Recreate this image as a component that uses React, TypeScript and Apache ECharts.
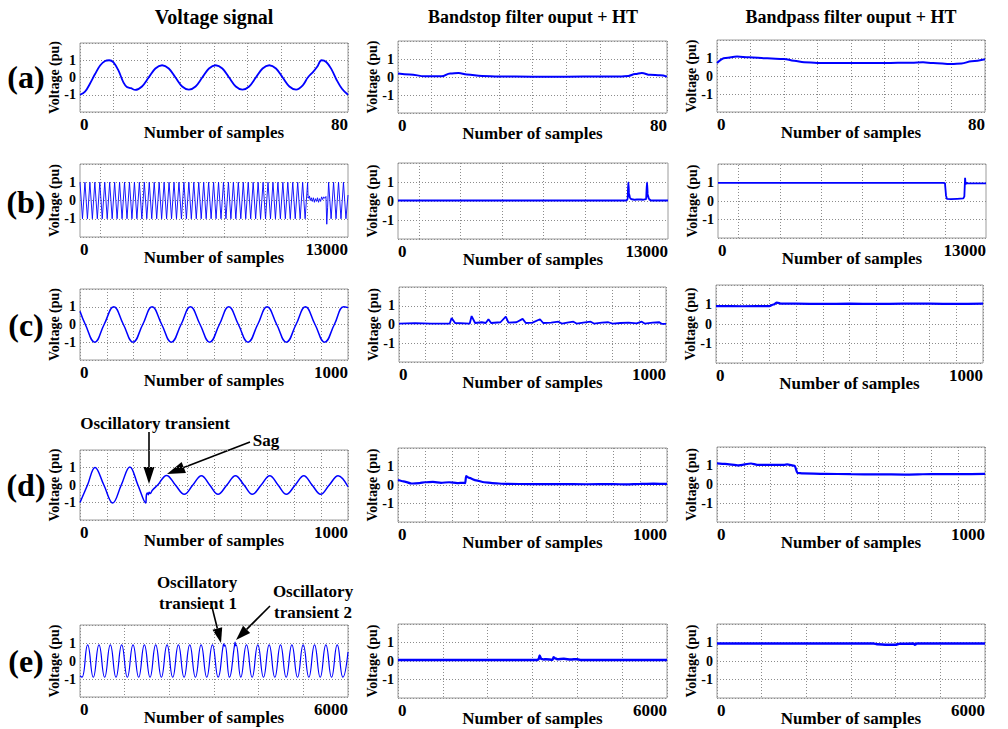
import React, { useEffect, useRef } from "react";
import * as echarts from "echarts";

const FONT = '"Liberation Serif", "Times New Roman", Times, serif';
const LINE_BLUE = "#0000ff";

const columnTitles = ["Voltage signal", "Bandstop filter ouput + HT", "Bandpass filter ouput + HT"];
const rowLabels = ["(a)", "(b)", "(c)", "(d)", "(e)"];
const xMaxByRow = [80, 13000, 1000, 1000, 6000];
const xGridStepByRow = [10, 0, 100, 100, 1000];
const bGridLines = [1000, 3000, 5000, 7000, 9000, 11000];
const yTickValues = [-1, 0, 1];
const yName = "Voltage (pu)";
const xName = "Number of samples";

// ---------- row (a) : 80 samples ----------
const a1Voltage = [[0,-1.0],[1.5,-0.82],[3,-0.35],[4.5,0.2],[6,0.7],[7.5,0.96],[8.7,1.0],[10,0.88],[11.5,0.4],[13,-0.3],[14,-0.55],[15.2,-0.62],[16.5,-0.72],[18.5,-0.52],[20.5,0.0],[22.5,0.52],[24.5,0.71],[26.5,0.52],[28.5,0.0],[30.5,-0.52],[32.5,-0.7],[34.5,-0.52],[36.5,0.0],[38.5,0.52],[40.5,0.71],[42.5,0.52],[44.5,0.0],[46.5,-0.52],[48.5,-0.7],[50.5,-0.52],[52.5,0.0],[54.5,0.52],[56.5,0.71],[58.5,0.52],[60.5,0.0],[62.5,-0.52],[64.5,-0.7],[66.5,-0.45],[68,0.0],[69.6,0.33],[70.8,0.62],[72.1,1.0],[73.5,0.9],[75,0.5],[76.5,-0.1],[78.2,-0.65],[80,-1.0]];
const a2Bandstop = [[0,0.19],[3.5,0.14],[8,0.04],[13,0.04],[15.5,0.2],[18,0.22],[20.5,0.14],[25,0.05],[30,0.03],[40,0.02],[50,0.02],[60,0.03],[66,0.03],[68.5,0.06],[70.5,0.16],[72.5,0.22],[75,0.12],[78,0.1],[80,0.02]];
const a3Bandpass = [[0,0.72],[2.5,1.0],[6,1.08],[9.5,1.04],[15,0.98],[20,0.95],[23,0.85],[26,0.77],[30,0.72],[40,0.72],[50,0.72],[58,0.74],[61.5,0.76],[64.5,0.72],[70,0.66],[73,0.7],[76,0.82],[80,0.93]];

// ---------- row (b) : 13000 samples ----------
// extrema every 120 samples, 0 .. 10920
const b1Regular = [
  1,-1,1,-1,1,-1,1,-1,1,-1,
  1,-1,1,-1,1,-1,1,-1,1,-1,
  1,-1,1,-1,1,-1,1,-1,1,-1,
  1,-1,1,-1,1,-1,1,-1,1,-1,
  1,-1,1,-1,1,-1,1,-1,1,-1,
  1,-1,1,-1,1,-1,1,-1,1,-1,
  1,-1,1,-1,1,-1,1,-1,1,-1,
  1,-1,1,-1,1,-1,1,-1,1,-1,
  1,-1,1,-1,1,-1,1,-1,1,-1,
  1,-1,
];
const b1Disturbance = [[11040,0.98],[11065,0.2],[11100,0.12],[11130,0.25],[11170,0.0],[11220,0.15],[11270,-0.05],[11320,0.15],[11370,-0.1],[11420,0.1],[11470,-0.05],[11520,0.15],[11570,-0.1],[11620,0.1],[11670,-0.05],[11720,0.2],[11770,0.05],[11820,0.2],[11870,0.12],[11930,0.22],[11970,-1.3],[12010,-0.4]];
const b1After = [[12060,1],[12180,-1],[12300,1],[12420,-1],[12540,1],[12660,-1],[12780,1],[12900,-1],[13000,0.3]];
const b2Bandstop = [[0,0.02],[10950,0.02],[11060,0.08],[11090,0.98],[11120,0.4],[11170,0.15],[11250,0.09],[11400,0.07],[11600,0.08],[11800,0.07],[11950,0.1],[11990,0.97],[12020,0.35],[12080,0.1],[12180,0.03],[13000,0.02]];
const b3Bandpass = [[0,0.98],[10950,0.98],[11010,0.95],[11060,0.3],[11100,0.12],[11300,0.1],[11600,0.12],[11900,0.14],[11950,0.25],[11985,1.25],[12010,0.9],[12060,1.0],[12100,0.95],[13000,0.95]];

// ---------- row (c) : 1000 samples ----------
const c1Voltage = [[0,0.75],[20,0.0],[55,-1.0],[90,0.0],[126,1.0],[162,0.0],[198,-1.0],[234,0.0],[269,1.0],[305,0.0],[341,-1.0],[377,0.0],[412,1.0],[448,0.0],[484,-1.0],[520,0.0],[555,1.0],[591,0.0],[627,-1.0],[663,0.0],[698,1.0],[734,0.0],[770,-1.0],[806,0.0],[841,1.0],[877,0.0],[913,-1.0],[949,0.0],[984,1.0],[1000,0.95]];
const c2Bandstop = [[0,0.05],[60,0.07],[120,0.05],[190,0.05],[197,0.35],[210,0.08],[265,0.05],[272,0.45],[285,0.08],[310,0.12],[325,0.08],[335,0.28],[345,0.08],[380,0.12],[400,0.42],[410,0.1],[440,0.12],[463,0.3],[475,0.08],[500,0.1],[528,0.28],[540,0.08],[570,0.1],[597,0.15],[610,0.05],[630,0.1],[653,0.15],[665,0.05],[690,0.1],[718,0.15],[730,0.05],[760,0.1],[784,0.12],[800,0.05],[830,0.08],[860,0.1],[890,0.06],[909,0.15],[920,0.05],[950,0.1],[975,0.12],[985,0.03],[1000,0.03]];
const c3Bandpass = [[0,0.92],[100,0.91],[200,0.92],[215,1.0],[228,1.1],[245,1.04],[300,1.04],[400,1.03],[500,1.04],[600,1.03],[700,1.04],[800,1.04],[900,1.03],[1000,1.04]];

// ---------- row (d) : 1000 samples ----------
const d1Voltage = [[0,-1.0],[28,0.0],[56,1.0],[89,0.0],[122,-1.03],[154,0.0],[186,1.03],[216,0.0],[245,-1.03],[248,-0.55],[252,-0.45],[255,-0.55],[258,-0.42],[262,-0.48],[270,-0.3],[290,0.0],[323,0.55],[356,0.0],[389,-0.53],[421,0.0],[453,0.53],[484,0.0],[515,-0.53],[548,0.0],[580,0.53],[612,0.0],[643,-0.53],[676,0.0],[708,0.53],[739,0.0],[770,-0.53],[803,0.0],[835,0.53],[866,0.0],[898,-0.53],[930,0.0],[963,0.53],[1000,-0.1]];
const d2Bandstop = [[0,0.27],[20,0.2],[50,0.08],[80,0.1],[100,0.15],[130,0.17],[160,0.12],[190,0.15],[220,0.1],[245,0.12],[250,0.1],[253,0.48],[265,0.38],[290,0.25],[320,0.15],[350,0.1],[400,0.06],[500,0.05],[600,0.05],[700,0.04],[800,0.05],[850,0.03],[900,0.06],[950,0.07],[1000,0.06]];
const d3Bandpass = [[0,1.13],[30,1.1],[80,1.02],[127,1.12],[150,1.05],[250,1.05],[262,1.07],[290,1.0],[300,0.62],[320,0.59],[400,0.57],[500,0.55],[600,0.54],[700,0.53],[800,0.56],[900,0.55],[1000,0.57]];

// ---------- row (e) : 6000 samples ----------
const e1Voltage = [[0,-0.82],[44,-0.9],[171,0.9],[298,-0.9],[425,0.9],[552,-0.9],[679,0.9],[806,-0.9],[933,0.9],[1060,-0.9],[1187,0.9],[1314,-0.9],[1441,0.9],[1568,-0.9],[1695,0.9],[1822,-0.9],[1949,0.9],[2076,-0.9],[2203,0.9],[2330,-0.9],[2457,0.9],[2584,-0.9],[2711,0.9],[2838,-0.9],[2965,0.9],[3092,-0.9],[3205,0.86],[3219,0.95],[3232,0.82],[3246,0.88],[3346,-0.9],[3460,0.88],[3473,1.05],[3484,0.84],[3496,0.9],[3600,-0.9],[3727,0.9],[3854,-0.9],[3981,0.9],[4108,-0.9],[4235,0.9],[4362,-0.9],[4489,0.9],[4616,-0.9],[4743,0.9],[4870,-0.9],[4997,0.9],[5124,-0.9],[5251,0.9],[5378,-0.9],[5505,0.9],[5632,-0.9],[5759,0.9],[5886,-0.9],[6000,0.5]];
const e2Bandstop = [[0,0.05],[3100,0.05],[3140,0.1],[3160,0.3],[3190,0.12],[3250,0.08],[3300,0.1],[3450,0.07],[3470,0.2],[3500,0.15],[3550,0.1],[3700,0.12],[3850,0.08],[4000,0.1],[4080,0.05],[6000,0.05]];
const e3Bandpass = [[0,0.95],[3500,0.95],[3600,0.9],[3800,0.88],[4000,0.88],[4080,0.93],[4400,0.94],[4430,0.88],[4470,0.94],[6000,0.95]];

// ---------- layout (pixels) ----------
const boxes = [
  [80, 43, 268, 69], [398, 41, 269, 72], [717, 40, 268, 72],
  [80, 164, 268, 73], [398, 163, 270, 76], [718, 164, 268, 74],
  [80, 289, 268, 71], [399, 287, 267, 75], [716, 285, 267, 78],
  [80, 450, 268, 70], [398, 448, 269, 74], [717, 447, 268, 75],
  [80, 625, 268, 72], [398, 624, 269, 74], [717, 624, 268, 74],
];
const lineWidths = [1.8, 2, 2, 0.9, 2, 1.8, 1.5, 1.8, 2.2, 1.5, 2.2, 2.2, 1.2, 2.5, 2.5];
const smoothFor = [0.35, 0.4, 0.4, 0, 0.2, 0, 0.45, 0, 0.3, 0.4, 0.2, 0.2, 0.5, 0.2, 0.2];
const monotoneFor = [false, true, true, false, true, true, false, true, true, false, true, true, false, true, true];
const titleX = [214, 533, 851];
const titleSize = [20, 18, 18];
const rowLabelY = [77, 202, 325, 485, 661];

function arrow(x1: number, y1: number, x2: number, y2: number, headLen: number, halfW: number) {
  const dx = x2 - x1, dy = y2 - y1;
  const L = Math.sqrt(dx * dx + dy * dy);
  const ux = dx / L, uy = dy / L;
  const bx = x2 - ux * headLen, by = y2 - uy * headLen;
  return [
    { type: "line", shape: { x1, y1, x2: bx, y2: by }, style: { stroke: "#000", lineWidth: 1.6 }, silent: true },
    { type: "polygon", shape: { points: [[x2, y2], [bx - uy * halfW, by + ux * halfW], [bx + uy * halfW, by - ux * halfW]] }, style: { fill: "#000" }, silent: true },
  ];
}

function text(t: string, x: number, y: number, size: number) {
  return {
    type: "text", x, y, silent: true,
    style: { text: t, font: `bold ${size}px ${FONT}`, fill: "#000", textAlign: "center", textVerticalAlign: "middle" },
  };
}

function buildOption() {
  const b1Data = b1Regular.map((v, i) => [i * 120, v]).concat(b1Disturbance, b1After);
  const panelData = [
    a1Voltage, a2Bandstop, a3Bandpass,
    b1Data, b2Bandstop, b3Bandpass,
    c1Voltage, c2Bandstop, c3Bandpass,
    d1Voltage, d2Bandstop, d3Bandpass,
    e1Voltage, e2Bandstop, e3Bandpass,
  ];
  const grid: any[] = [], xAxis: any[] = [], yAxis: any[] = [], series: any[] = [];
  const gridLine = { color: "#8c8c8c", type: [1, 2], width: 1 };

  panelData.forEach((data, i) => {
    const row = Math.floor(i / 3);
    const [left, top, width, height] = boxes[i];
    const xMax = xMaxByRow[row];
    const step = xGridStepByRow[row];
    grid.push({ left, top, width, height, show: true, borderColor: "#9c9c9c", borderWidth: 1, backgroundColor: "#fff", containLabel: false, outerBoundsMode: "none" });
    xAxis.push({
      type: "value", gridIndex: i, min: 0, max: xMax, interval: step || xMax,
      axisLine: { show: false }, axisTick: { show: false },
      splitLine: { show: !!step, lineStyle: gridLine },
      axisLabel: {
        formatter: (v: number) => (v === 0 || v === xMax ? String(v) : ""),
        showMinLabel: true, showMaxLabel: true, alignMinLabel: "left", alignMaxLabel: "right",
        fontFamily: FONT, fontWeight: "bold", fontSize: 17, color: "#000", margin: 4,
      },
      name: xName, nameLocation: "middle", nameGap: 12, nameMoveOverlap: false,
      nameTextStyle: { fontFamily: FONT, fontWeight: "bold", fontSize: 17, color: "#000", verticalAlign: "top" },
    });
    yAxis.push({
      type: "value", gridIndex: i, min: -2, max: 2, interval: 1,
      axisLine: { show: false }, axisTick: { show: false },
      splitLine: { show: true, lineStyle: gridLine },
      axisLabel: {
        formatter: (v: number) => (yTickValues.indexOf(v) >= 0 ? String(v) : ""),
        fontFamily: FONT, fontWeight: "bold", fontSize: 14, color: "#000", margin: 4,
      },
      name: yName, nameLocation: "middle", nameGap: 19, nameRotate: 90, nameMoveOverlap: false,
      nameTextStyle: { fontFamily: FONT, fontWeight: "bold", fontSize: 14, color: "#000" },
    });
    const s: any = {
      type: "line", xAxisIndex: i, yAxisIndex: i, data, symbol: "none", showSymbol: false,
      smooth: smoothFor[i] || false, silent: true,
      lineStyle: { color: LINE_BLUE, width: lineWidths[i] }, z: 3,
    };
    if (monotoneFor[i]) s.smoothMonotone = "x";
    if (row === 1) {
      s.markLine = {
        silent: true, symbol: "none", label: { show: false }, animation: false,
        lineStyle: gridLine, emphasis: { disabled: true },
        data: bGridLines.map((v) => ({ xAxis: v })), z: 1,
      };
    }
    series.push(s);
  });

  const graphic: any[] = [
    ...columnTitles.map((t, i) => text(t, titleX[i], 17, titleSize[i])),
    ...rowLabels.map((t, i) => text(t, 26, rowLabelY[i], 32)),
    text("Oscillatory transient", 155, 423, 17),
    text("Sag", 266, 440, 17),
    ...arrow(149, 432, 149, 484, 17, 5.5),
    ...arrow(250, 442, 167, 474, 18, 6),
    text("Oscillatory", 197, 582, 17),
    text("transient 1", 198, 603, 17),
    text("Oscillatory", 313, 591, 17),
    text("transient 2", 313, 612, 17),
    ...arrow(212, 607, 221, 643, 15, 5),
    ...arrow(270, 606, 236, 640, 15, 5),
  ];

  return {
    animation: false,
    backgroundColor: "#fff",
    textStyle: { fontFamily: FONT, fontWeight: "bold" },
    grid, xAxis, yAxis, series, graphic,
  };
}

export default function App() {
  const ref = useRef<HTMLDivElement>(null);
  useEffect(() => {
    document.body.style.margin = "0";
    if (!ref.current) return;
    const chart = echarts.init(ref.current, undefined, { renderer: "svg" });
    chart.setOption(buildOption() as any);
    return () => chart.dispose();
  }, []);
  return <div ref={ref} style={{ width: 1008, height: 729, position: "absolute", left: 0, top: 0 }} />;
}
